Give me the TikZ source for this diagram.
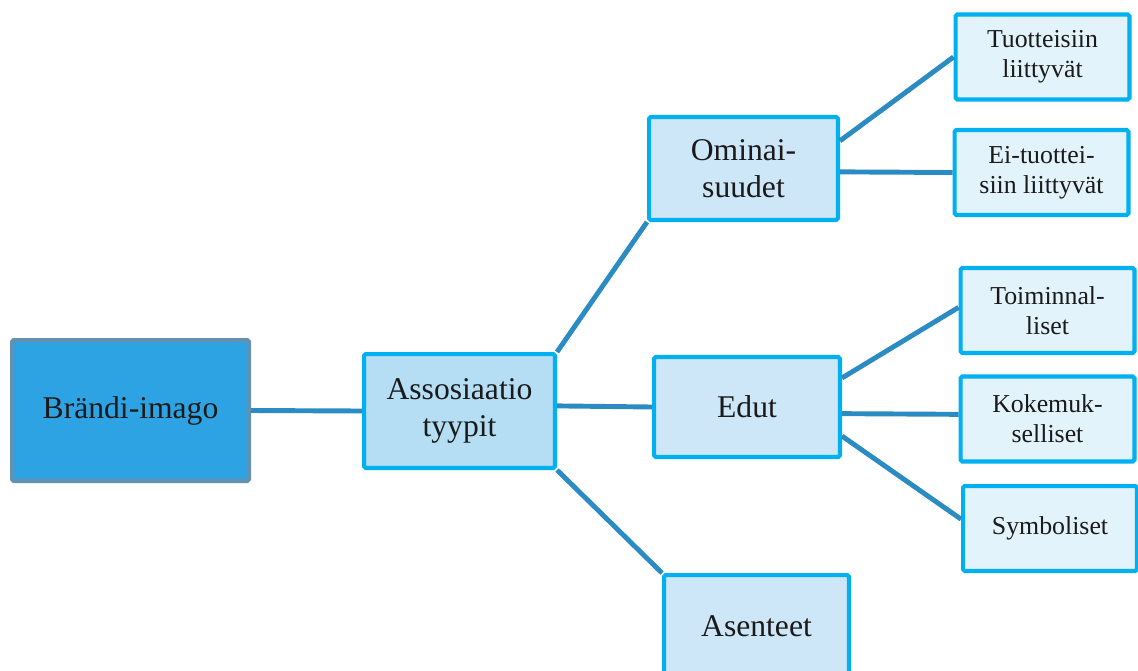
\documentclass[tikz,border=0pt]{standalone}
\usepackage{fontspec}
\setmainfont{Liberation Serif}
\usepackage{tikz}
\usetikzlibrary{positioning}

\definecolor{rootfill}{RGB}{46,163,227}
\definecolor{rootline}{RGB}{100,145,176}
\definecolor{boxline}{RGB}{0,176,240}
\definecolor{fillA}{RGB}{181,222,244}
\definecolor{fillB}{RGB}{205,231,248}
\definecolor{fillC}{RGB}{227,243,252}
\definecolor{linkcol}{RGB}{43,140,196}
\definecolor{txt}{RGB}{26,26,26}

\begin{document}
\begin{tikzpicture}[x=0.02cm,y=-0.02cm,
    box/.style={rectangle,rounded corners=1pt,line width=2.3pt,draw=boxline,text=txt,align=center,inner sep=0pt},
    bigbox/.style={box,font=\fontsize{18}{21}\selectfont},
    smallbox/.style={box,font=\fontsize{14.7}{17}\selectfont,fill=fillC,minimum width=3.48cm,minimum height=1.7cm}]
    \useasboundingbox (0,0) rectangle (1138,670);
    % juuri ja assosiaatiot
    \begin{scope}[every node/.style={bigbox}]
      \node[fill=rootfill,draw=rootline,minimum width=4.74cm,minimum height=2.82cm] (brandi) at (130.5,410.5) {Brändi-imago};
      \node[fill=fillA,minimum width=3.82cm,minimum height=2.28cm] (assoc) at (459.5,411) {Assosiaatio\\tyypit};
      \node[fill=fillB,minimum width=3.78cm,minimum height=2.06cm] (omin) at (743.5,168.5) {Ominai-\\suudet};
      \node[fill=fillB,minimum width=3.72cm,minimum height=2.0cm] (edut) at (747,407) {Edut};
      \node[fill=fillB,minimum width=3.7cm,minimum height=2.04cm] (asen) at (756.5,626) {Asenteet};
    \end{scope}
    % lehdet
    \begin{scope}[every node/.style={smallbox}]
      \node (tuot) at (1042.5,57) {Tuotteisiin\\liittyvät};
      \node (eituot) at (1041.5,172.5) {Ei-tuottei-\\siin liittyvät};
      \node (toim) at (1047.5,310.5) {Toiminnal-\\liset};
      \node (koke) at (1047.5,419) {Kokemuk-\\selliset};
      \node (symb) at (1050,528.5) {Symboliset};
    \end{scope}
    \begin{scope}[every edge/.style={draw=linkcol,line width=2.8pt}]
      \path (brandi.east) edge (assoc.west);
      \path (assoc.north east) edge (omin.south west);
      \path (assoc.3) edge (edut.west);
      \path (assoc.south east) edge (asen.north west);
      \path (omin.16) edge (tuot.west);
      \path (omin.-2) edge (eituot.west);
      \path (edut.17) edge (toim.178);
      \path (edut.-4) edge (koke.177);
      \path (edut.-17) edge (symb.174);
    \end{scope}
\end{tikzpicture}
\end{document}
